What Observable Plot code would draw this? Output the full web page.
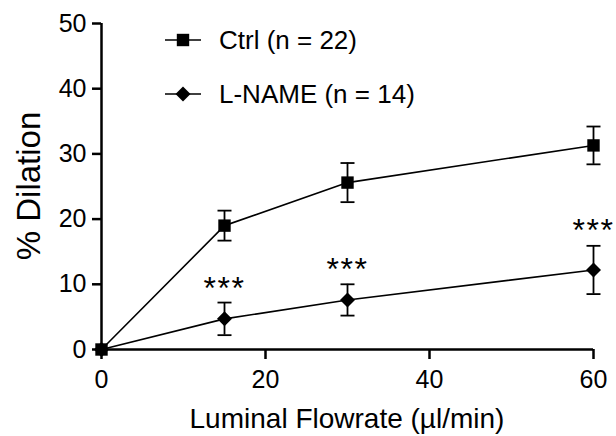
<!DOCTYPE html>
<html><head><meta charset="utf-8">
<script src="https://cdn.jsdelivr.net/npm/d3@7"></script>
<script src="https://cdn.jsdelivr.net/npm/@observablehq/plot@0.6"></script>
<style>
body{margin:0;background:#fff;}
#chart{position:relative;width:616px;height:436px;overflow:hidden;background:#fff;}
</style>
</head><body><div id="chart"></div>
<script>
// ---- data ----
const flow = [0, 15, 30, 60];
const ctrlMean = [0, 19.0, 25.6, 31.3];
const ctrlSem = [0, 2.3, 3.0, 2.9];
const lnameMean = [0, 4.7, 7.6, 12.2];
const lnameSem = [0, 2.5, 2.4, 3.7];
const seriesNames = ["Ctrl (n = 22)", "L-NAME (n = 14)"];
const sigFlow = [15, 30, 60];
const sigLabel = ["***", "***", "***"];
const sigY = [10.6, 13.5, 19.4];
const xTicks = [0, 20, 40, 60];
const yTicks = [0, 10, 20, 30, 40, 50];
const xDomain = [0, 60];
const yDomain = [0, 50];
const xLabel = "Luminal Flowrate (\u00b5l/min)";
const yLabel = "% Dilation";

// ---- build tables ----
const ctrl = flow.map((x, i) => ({x, y: ctrlMean[i], lo: ctrlMean[i] - ctrlSem[i], hi: ctrlMean[i] + ctrlSem[i], sem: ctrlSem[i]}));
const lname = flow.map((x, i) => ({x, y: lnameMean[i], lo: lnameMean[i] - lnameSem[i], hi: lnameMean[i] + lnameSem[i], sem: lnameSem[i]}));
const sig = sigFlow.map((x, i) => ({x, y: sigY[i], t: sigLabel[i]}));

// ---- symbols ----
const rad = size => Math.sqrt(size / Math.PI);
const squareSym = {draw(c, size) { const r = rad(size); c.rect(-r, -r, 2 * r, 2 * r); }};
const diamondSym = {draw(c, size) { const r = rad(size); c.moveTo(0, -r); c.lineTo(r, 0); c.lineTo(0, r); c.lineTo(-r, 0); c.closePath(); }};
const capSym = {draw(c, size) { const r = rad(size); c.moveTo(-r, 0); c.lineTo(r, 0); }};

const font = "'Liberation Sans', Arial, sans-serif";
const errMarks = d => [
  Plot.ruleX(d.filter(e => e.sem > 0), {x: "x", y1: "lo", y2: "hi", stroke: "black", strokeWidth: 1.8}),
  Plot.dot(d.filter(e => e.sem > 0), {x: "x", y: "hi", symbol: capSym, r: 7, stroke: "black", fill: "none", strokeWidth: 1.8}),
  Plot.dot(d.filter(e => e.sem > 0), {x: "x", y: "lo", symbol: capSym, r: 7, stroke: "black", fill: "none", strokeWidth: 1.8})
];

const plot = Plot.plot({
  width: 616,
  height: 436,
  marginLeft: 101,
  marginRight: 23,
  marginTop: 23,
  marginBottom: 87,
  style: {fontFamily: font, fontSize: "25px", color: "black", background: "white", overflow: "hidden"},
  x: {domain: xDomain},
  y: {domain: yDomain},
  marks: [
    Plot.axisX({ticks: xTicks, tickSize: 10, tickPadding: 11, strokeWidth: 2.5, label: null, fontSize: 25, tickFormat: d => String(d)}),
    Plot.axisY({ticks: yTicks, tickSize: 9, tickPadding: 6, strokeWidth: 2.5, label: null, fontSize: 25, tickFormat: d => String(d)}),
    Plot.ruleY([yDomain[0]], {x1: xDomain[0], x2: xDomain[1], stroke: "black", strokeWidth: 2.5}),
    Plot.ruleX([xDomain[0]], {y1: yDomain[0], y2: yDomain[1], stroke: "black", strokeWidth: 2.5}),
    Plot.line(ctrl, {x: "x", y: "y", stroke: "black", strokeWidth: 1.6}),
    Plot.line(lname, {x: "x", y: "y", stroke: "black", strokeWidth: 1.6}),
    ...errMarks(ctrl),
    ...errMarks(lname),
    Plot.dot(lname, {x: "x", y: "y", symbol: diamondSym, r: 7.5, fill: "black", stroke: "none"}),
    Plot.dot(ctrl, {x: "x", y: "y", symbol: squareSym, r: 6.2, fill: "black", stroke: "none"}),
    Plot.text(sig, {x: "x", y: "y", text: "t", fontSize: 32, fill: "black", dy: 8, style: "letter-spacing:1.5px"})
  ]
});

const svg = d3.select(plot);
svg.selectAll("text").filter(function(){ return this.textContent === "***"; }).style("letter-spacing", "1.5px");

// ---- axis titles ----
const yr = plot.scale("y").range;
const xr = plot.scale("x").range;
svg.append("text")
  .attr("transform", `translate(40,${(yr[0] + yr[1]) / 2}) rotate(-90)`)
  .attr("text-anchor", "middle").attr("font-size", 33).attr("fill", "black")
  .attr("font-family", font).text(yLabel);
svg.append("text")
  .attr("x", (xr[0] + xr[1]) / 2).attr("y", 428)
  .attr("text-anchor", "middle").attr("font-size", 28).attr("fill", "black")
  .attr("font-family", font).text(xLabel);

// ---- legend drawn into the same svg ----
const legendSyms = [squareSym, diamondSym];
const legendR = [6.2, 7.5];
const lg = svg.append("g").attr("font-family", font).attr("font-size", 26).attr("text-anchor", "start");
seriesNames.forEach((name, i) => {
  const g = lg.append("g").attr("transform", `translate(183,${40 + i * 54})`);
  g.append("line").attr("x1", -18).attr("x2", 18).attr("stroke", "black").attr("stroke-width", 1.6);
  g.append("path").attr("d", d3.symbol(legendSyms[i], Math.PI * legendR[i] * legendR[i])()).attr("fill", "black");
  g.append("text").attr("x", 36).attr("dy", "0.35em").attr("fill", "black").attr("text-anchor", "start").text(name);
});

document.getElementById("chart").appendChild(plot);
</script>
</body></html>
